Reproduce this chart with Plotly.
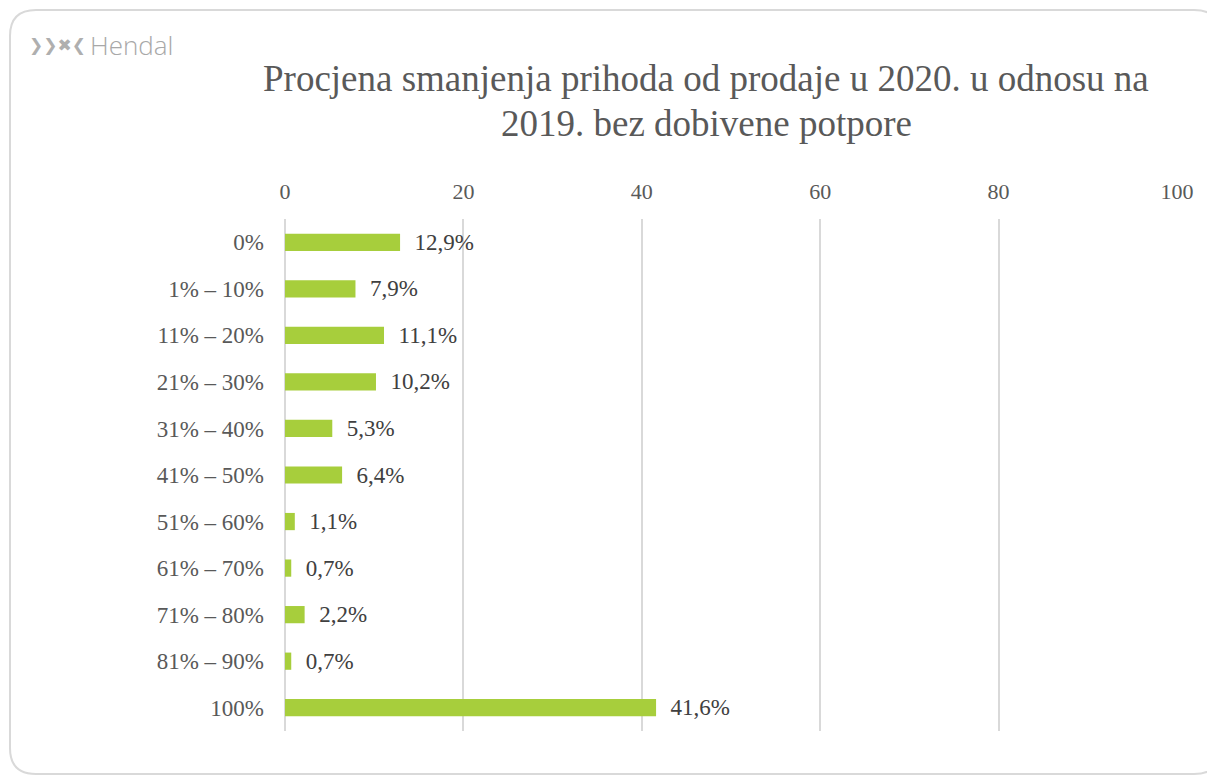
import plotly.graph_objects as go

categories = ["0%", "1% – 10%", "11% – 20%", "21% – 30%", "31% – 40%", "41% – 50%",
              "51% – 60%", "61% – 70%", "71% – 80%", "81% – 90%", "100%"]
values = [12.9, 7.9, 11.1, 10.2, 5.3, 6.4, 1.1, 0.7, 2.2, 0.7, 41.6]
x_ticks = [0, 20, 40, 60, 80, 100]
title_lines = ["Procjena smanjenja prihoda od prodaje u 2020. u odnosu na",
               "2019. bez dobivene potpore"]

labels = ["\u00a0\u00a0" + f"{v:.1f}".replace(".", ",") + "%" for v in values]

OFF = 8  # page body margin
W, H = 1215, 776
L, R, T, B = 285 - OFF, 1177 - OFF, 219 - OFF, 731 - OFF
SERIF = "Liberation Serif"

fig = go.Figure()
fig.add_trace(go.Bar(
    x=values, y=categories, orientation="h",
    marker=dict(color="#A7CE3C", line=dict(width=0)),
    width=0.37,
    text=labels, textposition="outside", cliponaxis=False, constraintext="none",
    textfont=dict(family=SERIF, size=23, color="#404040"),
    hoverinfo="skip",
))

# rounded border in paper coords (page coords minus body offset)
def px(xp):
    return (xp - OFF - L) / (R - L)
def py(yp):
    return (B - (yp - OFF)) / (B - T)

x0, x1, y0, y1, r = 10, 1220, 10, 774, 26
path = (f"M {px(x0 + r)} {py(y0)} L {px(x1 - r)} {py(y0)} "
        f"Q {px(x1)} {py(y0)} {px(x1)} {py(y0 + r)} "
        f"L {px(x1)} {py(y1 - r)} Q {px(x1)} {py(y1)} {px(x1 - r)} {py(y1)} "
        f"L {px(x0 + r)} {py(y1)} Q {px(x0)} {py(y1)} {px(x0)} {py(y1 - r)} "
        f"L {px(x0)} {py(y0 + r)} Q {px(x0)} {py(y0)} {px(x0 + r)} {py(y0)} Z")
fig.add_shape(type="path", path=path, xref="paper", yref="paper",
              line=dict(color="#D9D9D9", width=2), layer="below")

for line, yc in zip(title_lines, [78, 123]):
    fig.add_annotation(text=line, xref="paper", yref="paper",
                       x=px(706), y=py(yc), xanchor="center", yanchor="middle",
                       showarrow=False, align="center",
                       font=dict(family=SERIF, size=37, color="#595959"))

fig.add_annotation(text="<b>❯❯✖❮</b>", xref="paper", yref="paper",
                   x=px(27), y=py(45), xanchor="left", yanchor="middle",
                   showarrow=False, font=dict(family="DejaVu Sans", size=17, color="#AFAFAF"))
fig.add_annotation(text="Hendal", xref="paper", yref="paper",
                   x=px(88), y=py(45), xanchor="left", yanchor="middle",
                   showarrow=False,
                   font=dict(family="Open Sans", size=26, weight=300, color="#A8A8A8"))

fig.update_layout(
    width=W, height=H,
    margin=dict(l=L, r=W - R, t=T, b=H - B, pad=0),
    paper_bgcolor="white", plot_bgcolor="white",
    showlegend=False,
    xaxis=dict(side="top", range=[0, 100], tickvals=x_ticks, showgrid=True,
               gridcolor="#D9D9D9", gridwidth=2, zeroline=True, zerolinecolor="#D9D9D9",
               zerolinewidth=2, showline=False, ticks="", ticklabelstandoff=15,
               tickfont=dict(family=SERIF, size=22, color="#595959"), fixedrange=True),
    yaxis=dict(autorange="reversed", showgrid=False, zeroline=False, showline=False,
               ticks="", ticklabelstandoff=20,
               tickfont=dict(family=SERIF, size=23, color="#595959"), fixedrange=True),
    bargap=0.6,
)

fig.write_html("out.html", config={"displayModeBar": False})
